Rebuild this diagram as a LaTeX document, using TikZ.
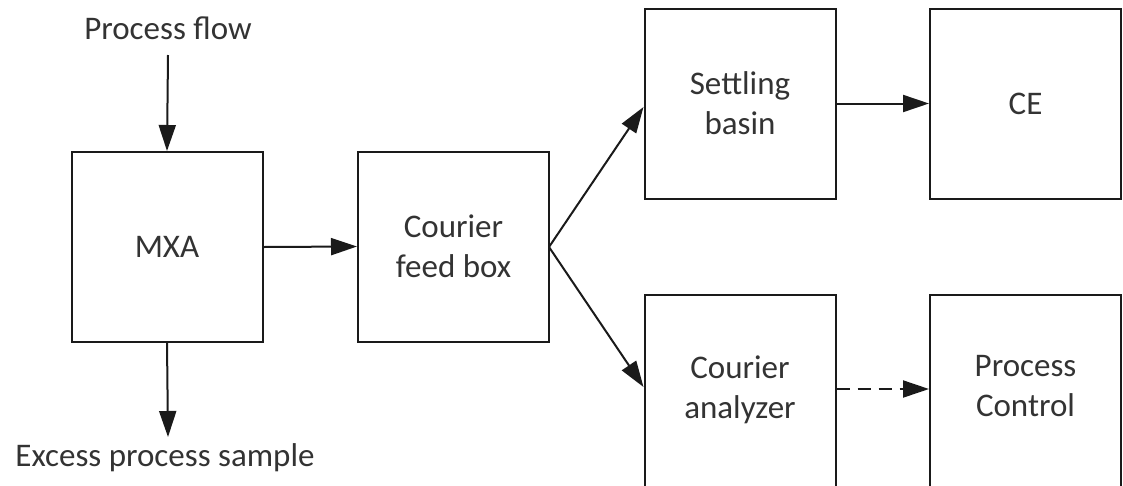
\documentclass[tikz,border=0pt]{standalone}
\usepackage{fontspec}
\setmainfont{Carlito}
\usetikzlibrary{arrows.meta}
\definecolor{txt}{HTML}{333333}
\definecolor{ln}{HTML}{1A1A1A}
\begin{document}
\begin{tikzpicture}[x=1pt,y=-1pt,
  box/.style={draw=ln,line width=2pt,inner sep=0pt,minimum width=191pt,minimum height=190pt,
    align=center,text=txt,font=\fontsize{33}{40}\selectfont},
  lbl/.style={inner sep=0pt,text=txt,font=\fontsize{33}{40}\selectfont},
  arr/.style={draw=ln,line width=2pt,-{Triangle[length=26pt,width=17pt]}}]
\useasboundingbox (0,0) rectangle (1123,485);
\clip (0,0) rectangle (1123,485);
\node[box] (mxa) at (167,247) {MXA};
\node[box] (feed) at (453.5,246.5) {Courier\\feed box};
\node[box] (settle) at (740,103.5) {Settling\\basin};
\node[box] (ce) at (1025.5,103.5) {CE};
\node[box,minimum height=194pt] (ana) at (740,392) {};
\node[lbl,align=center] (anat) at (740,390) {Courier\\analyzer};
\node[box,minimum height=194pt] (pc) at (1025.5,392) {};
\node[lbl,align=center] (pct) at (1025.5,386) {Process\\Control};
\node[lbl] (pf) at (168,28) {Process flow};
\node[lbl] (ex) at (165,458) {Excess process sample};
\coordinate (pfs) at (168,55);
\coordinate (exn) at (168,437);
\coordinate (fe) at (549,247);
\draw[arr] (pfs) -- (mxa.north);
\draw[arr] (mxa.south) -- (exn);
\draw[arr] (mxa.east) -- (feed.west);
\draw[arr] (fe) -- (settle.west |- 0,107);
\draw[arr] (fe) -- (ana.west |- 0,387);
\draw[arr] (settle.east) -- (ce.west);
\draw[arr,dash pattern=on 13pt off 8pt] (ana.east |- 0,389) -- (pc.west |- 0,389);
\end{tikzpicture}
\end{document}
